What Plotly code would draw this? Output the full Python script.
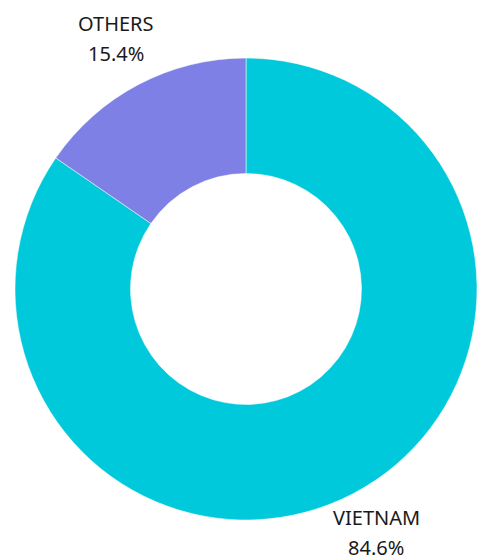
import math
import plotly.graph_objects as go

labels = ["VIETNAM", "OTHERS"]
values = [84.6, 15.4]
colors = ["#00C9DB", "#7F80E5"]

W, H = 477, 557
# pie geometry in pixels (page body margin removed below)
cx, cy, R = 246, 289, 231
dom_x = [(cx - R) / W, min(1.0, (cx + R) / W)]
dom_y = [(H - (cy + R)) / H, (H - (cy - R)) / H]

fig = go.Figure(go.Pie(
    labels=labels,
    values=values,
    hole=0.5,
    sort=False,
    direction="clockwise",
    rotation=0,
    textinfo="none",
    hoverinfo="label+percent",
    marker=dict(colors=colors, line=dict(color="white", width=0.5)),
    domain=dict(x=dom_x, y=dom_y),
    showlegend=False,
))

font = dict(family="Noto Sans, sans-serif", size=20, color="#1a1a1a")
total = sum(values)
cum = 0.0
annotations = []
for lab, v in zip(labels, values):
    mid = (cum + v / 2) / total * 2 * math.pi
    cum += v
    d = 1.21 * R
    px = cx + d * math.sin(mid)
    py = cy - d * math.cos(mid) - 3
    pct = f"{v / total * 100:.1f}%"
    for txt, off in ((lab, -15.5), (pct, 14.5)):
        annotations.append(dict(
            x=px / W, y=(H - (py + off)) / H, xref="paper", yref="paper",
            text=txt, showarrow=False, font=font,
            xanchor="center", yanchor="middle",
        ))

fig.update_layout(
    width=W, height=H,
    margin=dict(l=0, r=0, t=0, b=0),
    paper_bgcolor="white",
    plot_bgcolor="white",
    annotations=annotations,
)
fig.write_html(
    "out.html",
    config={"responsive": False, "displayModeBar": False},
    post_script=(
        "document.body.style.margin='0';"
        "document.body.style.overflow='hidden';"
        "document.documentElement.style.overflow='hidden';"
    ),
)
